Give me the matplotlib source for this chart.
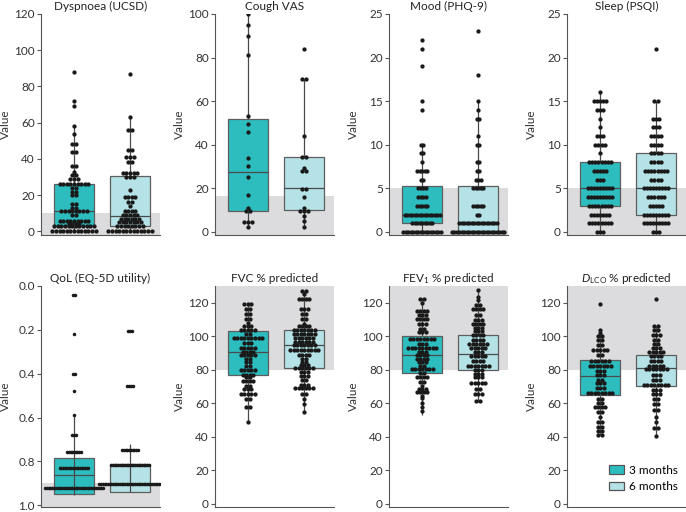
import numpy as np
import matplotlib
matplotlib.use('Agg')
import matplotlib.pyplot as plt
from matplotlib.patches import Patch

plt.rcParams['font.family'] = ['Lato', 'DejaVu Sans']
plt.rcParams['mathtext.fontset'] = 'custom'
plt.rcParams['mathtext.rm'] = 'Lato'
plt.rcParams['mathtext.it'] = 'Lato:italic'

groups = ['3 months', '6 months']

# values, as (row value, number of dots in row)
dysp_3m_vals = [88, 72, 69, 58, 54, 48, 44, 36, 33, 31, 29, 26, 24, 22, 20, 15, 13, 11, 9, 6, 4, 3, 0]
dysp_3m_cnts = [1, 1, 1, 1, 1, 2, 2, 2, 1, 2, 3, 9, 2, 2, 2, 2, 2, 8, 2, 9, 4, 12, 13]
dysp_6m_vals = [87, 63, 56, 45, 41, 38.5, 32, 30, 23, 19, 16, 14, 11, 9, 7, 5, 3, 0]
dysp_6m_cnts = [1, 1, 2, 2, 3, 2, 5, 3, 1, 4, 2, 1, 4, 5, 6, 7, 8, 13]

cough_3m_vals = [100, 95, 90, 81, 53, 49.5, 46, 34, 30, 25, 17, 11, 9.5, 4.5, 2]
cough_3m_cnts = [1, 1, 1, 1, 1, 1, 1, 1, 1, 1, 1, 1, 2, 3, 1]
cough_6m_vals = [84, 70, 44, 34.5, 29.5, 28, 19.5, 16, 11, 9.5, 7, 5, 2]
cough_6m_cnts = [1, 2, 1, 2, 1, 2, 2, 1, 1, 3, 1, 1, 1]

mood_3m_vals = [22, 21, 19, 15, 14, 10, 9, 8, 7, 6, 5, 4, 3, 2, 1, 0]
mood_3m_cnts = [1, 1, 1, 1, 1, 2, 2, 1, 5, 2, 4, 4, 5, 15, 9, 16]
mood_6m_vals = [23, 18, 15, 14, 13, 11, 10, 8, 7, 6, 5, 3, 2, 1, 0]
mood_6m_cnts = [1, 1, 1, 1, 2, 1, 2, 2, 2, 3, 5, 5, 2, 16, 22]

sleep_3m_vals = [16, 15, 14, 13, 12, 11, 10, 9, 8, 7, 6, 5, 4, 3, 2, 1, 0]
sleep_3m_cnts = [1, 5, 3, 1, 1, 3, 4, 1, 8, 5, 3, 9, 9, 8, 7, 8, 3]
sleep_6m_vals = [21, 15, 13, 12, 11, 10, 9, 8, 7, 6, 5, 4, 3, 2, 1, 0]
sleep_6m_cnts = [1, 2, 3, 3, 4, 4, 4, 4, 8, 4, 9, 6, 5, 9, 9, 3]

qol_3m_vals = [0.04, 0.22, 0.40, 0.48, 0.59, 0.68, 0.755, 0.83, 0.92]
qol_3m_cnts = [2, 1, 2, 1, 1, 3, 9, 18, 35]
qol_6m_vals = [0.205, 0.455, 0.748, 0.817, 0.905]
qol_6m_cnts = [3, 4, 10, 23, 37]

fvc_3m_vals = [119, 116, 113, 110, 108, 106, 104, 101.5, 99, 96, 93, 90.5, 88.5, 86.5, 84.5, 82, 80,
               77, 75.5, 73, 70.5, 68.5, 65.5, 62.5, 57.5, 49]
fvc_3m_cnts = [3, 2, 2, 2, 1, 3, 5, 2, 9, 3, 5, 4, 5, 2, 2, 2, 5, 4, 2, 4, 2, 3, 5, 2, 2, 1]
fvc_6m_vals = [127, 125, 122, 116.5, 113.5, 110.5, 107.5, 106, 104, 101.5, 99, 96.5, 94.5, 91.5, 89,
               86.5, 84.5, 83, 81, 78.5, 76.5, 74, 71, 69, 65.5, 62.5, 59.5, 55]
fvc_6m_cnts = [2, 1, 4, 3, 2, 2, 1, 4, 7, 7, 6, 6, 7, 9, 4, 2, 2, 3, 6, 3, 3, 2, 3, 6, 2, 1, 1, 1]

fev_3m_vals = [122.5, 120, 115, 112.5, 110, 107.5, 104.5, 102.5, 98.5, 95.5, 93, 90.5, 88.5, 86.5,
               84.5, 82.5, 80.5, 78, 75.5, 72.5, 70.5, 68.5, 66.5, 64.5, 63, 60, 57.5, 55.5]
fev_3m_cnts = [2, 1, 4, 3, 4, 3, 2, 3, 8, 3, 9, 3, 4, 4, 3, 2, 7, 2, 4, 2, 1, 3, 4, 1, 1, 1, 1, 1]
fev_6m_vals = [127.5, 123.5, 121.5, 118.5, 116, 112.5, 109.5, 107.5, 105, 103, 100.5, 98, 95.5, 93,
               90.5, 88, 85.5, 82.5, 80, 77.5, 75.5, 72, 68.5, 65.5, 61.5]
fev_6m_cnts = [1, 1, 1, 2, 4, 2, 3, 4, 3, 3, 4, 4, 6, 5, 3, 5, 4, 7, 3, 3, 3, 5, 2, 3, 2]

dlco_3m_vals = [119.5, 104, 102, 100, 97.5, 94.5, 92, 88.5, 85.5, 82, 79, 77, 74, 72, 69, 66, 62.5,
                60, 57.5, 54.5, 52, 49, 46, 43.5, 41]
dlco_3m_cnts = [1, 1, 1, 2, 2, 2, 5, 2, 6, 7, 3, 3, 2, 3, 3, 8, 2, 2, 4, 2, 1, 2, 2, 2, 2]
dlco_6m_vals = [122, 106, 103.5, 101, 98, 95.5, 93, 90.5, 88, 85.5, 82.5, 80.5, 77, 74, 71, 68, 65.5,
                62.5, 59.5, 56, 51.5, 48.5, 45, 40.5]
dlco_6m_cnts = [1, 2, 2, 3, 2, 2, 3, 5, 4, 4, 5, 7, 3, 3, 8, 3, 3, 2, 2, 2, 1, 1, 2, 1]

# box stats: q1, median, q3, whisker low, whisker high
dysp_box = [(3, 11, 26, 0, 58), (3, 8.5, 30.5, 0, 63)]
cough_box = [(9.5, 27.5, 52, 2, 100), (10, 20, 34.5, 2, 70)]
mood_box = [(1, 2, 5.3, 0, 10), (0, 1, 5.3, 0, 15)]
sleep_box = [(3, 5, 8, 0, 16), (2, 5, 9, 0, 15)]
qol_box = [(0.785, 0.863, 0.95, 0.59, 0.955), (0.813, 0.905, 0.94, 0.72, 0.94)]
fvc_box = [(77, 90.5, 103, 49, 119), (81, 94.5, 104, 55, 127)]
fev_box = [(78, 88.5, 100, 53, 123), (80, 89.5, 101, 61, 127.5)]
dlco_box = [(65, 76, 86, 41, 104), (70, 81, 89, 40, 106)]

titles = ['Dyspnoea (UCSD)', 'Cough VAS', 'Mood (PHQ-9)', 'Sleep (PSQI)',
          'QoL (EQ-5D utility)', 'FVC % predicted', 'FEV$_1$ % predicted',
          '$\\mathit{D}_{\\mathrm{LCO}}$ % predicted']

panels = [
    dict(v=[(dysp_3m_vals, dysp_3m_cnts), (dysp_6m_vals, dysp_6m_cnts)], box=dysp_box,
         ylim=(-2, 120), ticks=np.arange(0, 121, 20), band=(-2, 10), step=3.6),
    dict(v=[(cough_3m_vals, cough_3m_cnts), (cough_6m_vals, cough_6m_cnts)], box=cough_box,
         ylim=(-1.5, 100), ticks=np.arange(0, 101, 20), band=(-1.5, 16.4), step=3.8),
    dict(v=[(mood_3m_vals, mood_3m_cnts), (mood_6m_vals, mood_6m_cnts)], box=mood_box,
         ylim=(-0.35, 25), ticks=np.arange(0, 26, 5), band=(-0.35, 5), step=2.5),
    dict(v=[(sleep_3m_vals, sleep_3m_cnts), (sleep_6m_vals, sleep_6m_cnts)], box=sleep_box,
         ylim=(-0.35, 25), ticks=np.arange(0, 26, 5), band=(-0.35, 5), step=3.1),
    dict(v=[(qol_3m_vals, qol_3m_cnts), (qol_6m_vals, qol_6m_cnts)], box=qol_box,
         ylim=(1.008, 0.0), ticks=np.arange(0, 1.01, 0.2), band=(0.9, 1.008), step=1.7, thru=True),
    dict(v=[(fvc_3m_vals, fvc_3m_cnts), (fvc_6m_vals, fvc_6m_cnts)], box=fvc_box,
         ylim=(-2, 130), ticks=np.arange(0, 121, 20), band=(80, 130), step=3.5),
    dict(v=[(fev_3m_vals, fev_3m_cnts), (fev_6m_vals, fev_6m_cnts)], box=fev_box,
         ylim=(-2, 130), ticks=np.arange(0, 121, 20), band=(80, 130), step=3.5),
    dict(v=[(dlco_3m_vals, dlco_3m_cnts), (dlco_6m_vals, dlco_6m_cnts)], box=dlco_box,
         ylim=(-2, 130), ticks=np.arange(0, 121, 20), band=(80, 130), step=3.5),
]

colors = ['#2dbdbf', '#b4e2e6']
W, H = 686, 512
lefts = [41, 215, 389, 567]
bottoms = [235, 507]
ax_w, ax_h = 119, 221
ppx = 56.0  # px per x unit
xlim = (-33 / ppx, (ax_w - 33) / ppx)
bw = 0.73

fig = plt.figure(figsize=(W / 100, H / 100), dpi=100)

for i, p in enumerate(panels):
    r, c = divmod(i, 4)
    ax = fig.add_axes([lefts[c] / W, 1 - bottoms[r] / H, ax_w / W, ax_h / H])
    ax.set_xlim(*xlim)
    ax.set_ylim(*p['ylim'])
    ax.axhspan(p['band'][0], p['band'][1], color='#dcdcde', lw=0, zorder=0)

    for g in range(2):
        q1, med, q3, lo, hi = p['box'][g]
        ax.bar(g, q3 - q1, bottom=q1, width=bw, color=colors[g], edgecolor='#5e5e5e',
               linewidth=0.9, zorder=2)
        ax.hlines(med, g - bw / 2, g + bw / 2, color='#4a4a4a', lw=0.9, zorder=2.5)
        if p.get('thru'):
            ax.vlines(g, lo, hi, color='#4a4a4a', lw=0.9, zorder=2.5)
        else:
            ax.vlines(g, q3, hi, color='#4a4a4a', lw=0.9, zorder=1.5)
            ax.vlines(g, lo, q1, color='#4a4a4a', lw=0.9, zorder=1.5)

        vals, cnts = p['v'][g]
        xs, ys = [], []
        for v, n in zip(vals, cnts):
            off = (np.arange(n) - (n - 1) / 2) * p['step'] / ppx
            xs.extend(g + off)
            ys.extend([v] * n)
        ms = 6.5 if p.get('thru') else 9.5
        ax.scatter(xs, ys, s=ms, color='#1a1a1a', lw=0, zorder=3)

    ax.set_yticks(p['ticks'])
    if i == 4:
        ax.set_yticklabels(['%.1f' % t for t in p['ticks']])
    ax.set_xticks([])
    for s in ['top', 'right']:
        ax.spines[s].set_visible(False)
    for s in ['left', 'bottom']:
        ax.spines[s].set_color('#555555')
        ax.spines[s].set_linewidth(0.8)
    ax.tick_params(axis='y', length=3, width=0.8, color='#555555', labelsize=8.5,
                   labelcolor='#333333', pad=1.5)
    ax.set_ylabel('Value', fontsize=8.5, color='#333333')
    ax.yaxis.set_label_coords(-0.25, 0.5)
    ax.set_title(titles[i], fontsize=8.5, color='#222222', pad=3)

    if i == 7:
        handles = [Patch(facecolor=colors[k], edgecolor='#555555', lw=0.9) for k in range(2)]
        ax.legend(handles, groups, loc='lower right', bbox_to_anchor=(1.02, 0.02), frameon=False,
                  fontsize=8.5, handlelength=1.3, handleheight=0.75, handletextpad=0.4,
                  labelspacing=0.45)

fig.savefig('out.png', dpi=100)
